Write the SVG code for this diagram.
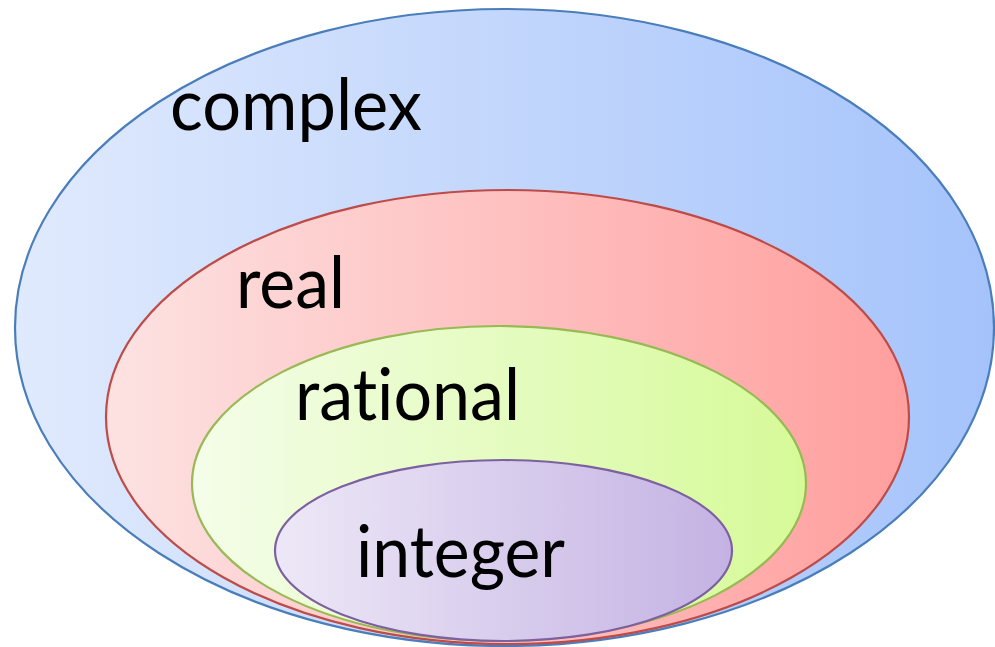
<svg xmlns="http://www.w3.org/2000/svg" width="995" height="647" viewBox="0 0 995 647">
  <defs>
    <linearGradient id="gBlue" x1="0" y1="0" x2="1" y2="0">
      <stop offset="0" stop-color="#e0eafd"/>
      <stop offset="1" stop-color="#a5c3fb"/>
    </linearGradient>
    <linearGradient id="gRed" x1="0" y1="0" x2="1" y2="0">
      <stop offset="0" stop-color="#fde2e2"/>
      <stop offset="1" stop-color="#ff9f9e"/>
    </linearGradient>
    <linearGradient id="gGreen" x1="0" y1="0" x2="1" y2="0">
      <stop offset="0" stop-color="#f4fde9"/>
      <stop offset="1" stop-color="#d6fa98"/>
    </linearGradient>
    <linearGradient id="gPurple" x1="0" y1="0" x2="1" y2="0">
      <stop offset="0" stop-color="#ede8f7"/>
      <stop offset="1" stop-color="#c4b2e3"/>
    </linearGradient>
  </defs>
  <style>
    .lbl { font-family: Lato, "Open Sans", "Liberation Sans", sans-serif; font-size: 72px; fill: #000000; font-variant-ligatures: none; font-feature-settings: "liga" 0, "clig" 0; }
    ellipse { stroke-width: 2.2; }
  </style>
  <g id="complex">
    <ellipse cx="504.5" cy="327.5" rx="489.5" ry="318.5" fill="url(#gBlue)" stroke="#4a7ebb"/>
    <text class="lbl" x="170" y="130" textLength="252" lengthAdjust="spacingAndGlyphs">complex</text>
  </g>
  <g id="real">
    <ellipse cx="507.5" cy="417" rx="401.5" ry="227" fill="url(#gRed)" stroke="#be4b48"/>
    <text class="lbl" x="236" y="308" textLength="109" lengthAdjust="spacingAndGlyphs">real</text>
  </g>
  <g id="rational">
    <ellipse cx="499" cy="483.5" rx="307" ry="157.5" fill="url(#gGreen)" stroke="#98b954"/>
    <text class="lbl" x="295" y="420" textLength="225" lengthAdjust="spacingAndGlyphs">rational</text>
  </g>
  <g id="integer">
    <ellipse cx="503.5" cy="550.5" rx="228.5" ry="90.5" fill="url(#gPurple)" stroke="#7d60a0"/>
    <text class="lbl" x="356" y="577" textLength="209" lengthAdjust="spacingAndGlyphs">integer</text>
  </g>
  <g id="connectors"/>
</svg>
